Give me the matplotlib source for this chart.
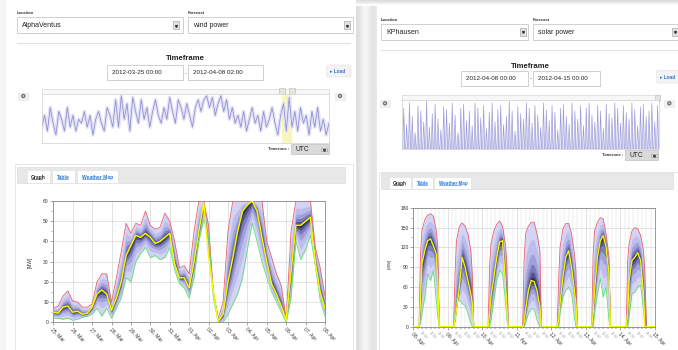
import numpy as np
import matplotlib.pyplot as plt
from matplotlib.patches import Rectangle, FancyBboxPatch, Circle
from matplotlib.ticker import MultipleLocator

plt.rcParams['font.family'] = ['Liberation Sans', 'DejaVu Sans']

W, H = 678, 350

# ---------- data ----------
# wind power, AlphaVentus, 6-hourly from 2012-03-25 00:00
wind_days = ['25. Mar', '26. Mar', '27. Mar', '28. Mar', '29. Mar', '30. Mar', '31. Mar',
             '01. Apr', '02. Apr', '03. Apr', '04. Apr', '05. Apr', '06. Apr', '07. Apr', '08. Apr']
wind_med = [5, 4.5, 7.5, 8, 5, 5.5, 4, 4.5, 7.5, 14, 16, 14, 6, 12, 20, 33, 38, 43, 42, 44,
            42, 39, 40, 42, 44, 29, 22, 22, 17, 30, 45, 59, 33, 15, 0.5, 4, 20, 32, 45, 55,
            58, 60, 55, 42, 30, 19, 14, 8, 1, 25, 48, 48, 50, 52, 30, 15, 7]
wind_max = [7, 8, 13, 15.5, 10.5, 10, 7.5, 7.5, 9, 20, 24, 24, 10, 22, 35, 49, 44, 49, 48, 55,
            48, 46, 47, 54, 50, 40, 27, 28, 24, 45, 60, 60, 48, 14, 2, 10, 45, 60, 60, 60,
            60, 60, 60, 60, 40, 32, 24, 18, 1.5, 45, 60, 60, 60, 60, 37, 27, 13]
wind_min = [2, 2, 1.5, 2, 1, 1.5, 2.5, 3, 4, 7, 3, 7, 2, 7, 12, 22, 20, 30, 34, 37,
            32, 33, 31, 32, 37, 26, 19, 17, 12, 22, 40, 51, 42, 12, 0, 0, 4, 9, 14, 22,
            36, 49, 40, 30, 22, 15, 10, 5, 0, 12, 40, 31, 36, 43, 28, 11, 3]

# solar power, KPhausen, 08 Apr - 15 Apr, values at these hours of each day
solar_days = ['08. Apr', '09. Apr', '10. Apr', '11. Apr', '12. Apr', '13. Apr', '14. Apr', '15. Apr']
solar_hours = [4, 5, 6, 8, 10, 12, 14, 16, 17, 18]
solar_max = [[0, 110, 145, 162, 169, 171, 167, 145, 120, 0],
             [0, 80, 130, 152, 157, 152, 140, 115, 80, 0],
             [0, 90, 125, 145, 155, 160, 152, 125, 95, 0],
             [0, 100, 140, 152, 158, 158, 140, 115, 0, 0],
             [0, 70, 120, 148, 156, 156, 140, 110, 85, 0],
             [0, 110, 145, 158, 165, 163, 140, 105, 0, 0],
             [0, 100, 125, 145, 150, 148, 138, 115, 80, 0]]
solar_med = [[0, 40, 95, 115, 130, 133, 122, 110, 70, 0],
             [0, 10, 25, 60, 105, 90, 70, 50, 35, 0],
             [0, 20, 45, 75, 105, 128, 130, 70, 30, 0],
             [0, 5, 25, 55, 70, 68, 55, 30, 0, 0],
             [0, 10, 35, 75, 105, 115, 90, 55, 35, 0],
             [0, 20, 55, 105, 130, 138, 120, 80, 0, 0],
             [0, 20, 70, 100, 105, 112, 100, 50, 0, 0]]
solar_min = [[0, 5, 20, 45, 80, 70, 85, 40, 15, 0],
             [0, 20, 43, 40, 35, 32, 20, 5, 0, 0],
             [0, 0, 10, 40, 70, 85, 80, 40, 10, 0],
             [0, 0, 5, 20, 27, 27, 10, 0, 0, 0],
             [0, 0, 20, 45, 55, 60, 50, 15, 0, 0],
             [0, 0, 20, 50, 73, 45, 60, 10, 0, 0],
             [0, 0, 15, 50, 52, 60, 63, 25, 0, 0]]

# navigator overviews
nav_wind = [20, 35, 15, 45, 25, 10, 40, 30, 15, 45, 20, 35, 15, 30, 25, 40, 20, 35, 10, 30,
            40, 25, 15, 45, 35, 20, 55, 20, 60, 30, 50, 15, 58, 40, 25, 55, 30, 45, 20, 40,
            55, 35, 25, 45, 30, 58, 40, 25, 55, 45, 30, 50, 35, 20, 45, 55, 40, 55, 60, 45,
            58, 35, 50, 60, 40, 55, 30, 45, 25, 35, 20, 40, 15, 30, 45, 25, 35, 15, 40, 20,
            30, 45, 25, 10, 35, 50, 15, 58, 20, 40, 15, 45, 25, 35, 10, 40, 20, 45, 15, 30,
            10, 25]
nav_solar = [150, 90, 170, 120, 60, 160, 140, 100, 175, 80, 130, 165, 110, 70, 155, 145, 95, 170,
             125, 60, 150, 165, 105, 140, 85, 170, 150, 115, 160, 75, 135, 170, 100, 145, 160, 90,
             120, 175, 140, 65, 155, 130, 110, 170, 150, 95, 160, 125, 80, 170, 145, 105, 160, 135,
             70, 150, 165, 120, 90, 170, 140, 110, 160, 85, 150, 170, 125, 100, 160, 140, 75, 165,
             130, 115, 170, 150, 95, 160, 135, 110, 170, 145, 85, 155, 165, 120, 140, 170, 100, 160]

# ---------- figure ----------
fig = plt.figure(figsize=(W / 100, H / 100), dpi=100)
bg = fig.add_axes([0, 0, 1, 1])
bg.set_xlim(0, W)
bg.set_ylim(H, 0)
bg.axis('off')


def px_axes(x0, y0, x1, y1):
    return fig.add_axes([x0 / W, 1 - y1 / H, (x1 - x0) / W, (y1 - y0) / H])


def rect(x0, y0, x1, y1, fc='white', ec='#cccccc', lw=0.6, z=1):
    bg.add_patch(Rectangle((x0, y0), x1 - x0, y1 - y0, facecolor=fc, edgecolor=ec, linewidth=lw, zorder=z))


def select_box(x0, y0, x1, y1, text, arrow_x=None, fs=5.0, fc='white'):
    rect(x0 + 0.8, y0 + 0.8, x1 + 0.8, y1 + 0.8, fc='#ececec', ec='none', z=1)
    rect(x0, y0, x1, y1, fc=fc, ec='#c9c9c9', z=2)
    bg.text(x0 + 5, (y0 + y1) / 2 + 0.3, text, fontsize=fs, va='center', ha='left', color='#222', zorder=3)
    if arrow_x is not None:
        rect(arrow_x, y0 + 3.5, arrow_x + 6, y1 - 3.5, fc='#e2e2e2', ec='#9a9a9a', lw=0.4, z=3)
        bg.plot(arrow_x + 3, (y0 + y1) / 2 + 0.5, marker='v', ms=1.3, color='#333', zorder=4)


def round_button(cx, cy):
    rect(cx - 5, cy - 3.5, cx + 5, cy + 3.5, fc='#f1f1f1', ec='#e4e4e4', lw=0.4, z=2)
    bg.add_patch(Circle((cx, cy), 2.2, facecolor='#707070', edgecolor='none', zorder=3))
    bg.add_patch(Circle((cx, cy), 0.9, facecolor='#d8d8d8', edgecolor='none', zorder=4))


def load_button(x0, y0, x1, y1):
    bg.add_patch(FancyBboxPatch((x0, y0), x1 - x0, y1 - y0, boxstyle='round,pad=0,rounding_size=2',
                                facecolor='#f3f3f3', edgecolor='#e4e4e4', linewidth=0.5, zorder=2))
    bg.text(x0 + 3, (y0 + y1) / 2 + 0.3, '\u25b8 Load', fontsize=3.4, va='center', color='#2f6fc8',
            fontweight='bold', zorder=3)


def tabs(x0, y0, x1, y1, tab_x, label_x, fs=3.6):
    rect(x0, y0, x1, y1, fc='#e8e8e8', ec='#dddddd', lw=0.5, z=2)
    names = ['Graph', 'Table', 'Weather Map']
    for (a, b), lx, name in zip(tab_x, label_x, names):
        rect(a, y0 + 3.5, b, y1, fc='white', ec='#dddddd', lw=0.4, z=3)
        col = '#222' if name == 'Graph' else '#2a78d6'
        bg.text(lx, y1 - 5.5, name, fontsize=fs, fontweight='bold', color=col, va='center', zorder=4)
        bg.plot([lx, lx + len(name) * fs * 0.62], [y1 - 3.6, y1 - 3.6], color=col, lw=0.4, zorder=4)


def navigator(x0, y0, x1, y1):
    rect(x0, y0 - 5.3, x1, y0, fc='#f7f7f7', ec='#d8d8d8', lw=0.5, z=2)
    ax = px_axes(x0, y0, x1, y1)
    for s in ax.spines.values():
        s.set_color('#d0d0d0')
        s.set_linewidth(0.5)
    ax.set_xticks([])
    ax.set_yticks([])
    return ax


def fan(ax, t, lo, med, hi, lw_y=1.1):
    lo, med, hi = np.asarray(lo, float), np.asarray(med, float), np.asarray(hi, float)
    shades = [(1.0, '#d3d3f5'), (0.7, '#bdbdeb'), (0.45, '#a0a0da'), (0.28, '#7b7bbb'),
              (0.15, '#52528f'), (0.06, '#2c2c5c')]
    for f, c in shades:
        ax.fill_between(t, med - f * (med - lo), med + f * (hi - med), color=c, lw=0, zorder=2)
    ax.plot(t, hi, color='#e8606c', lw=0.6, zorder=3)
    ax.plot(t, lo, color='#5ee06e', lw=0.6, zorder=3)
    ax.plot(t, med, color='#f7f700', lw=lw_y, zorder=4)


def style_chart(ax):
    for s in ax.spines.values():
        s.set_color('#8a8a8a')
        s.set_linewidth(0.6)
    ax.tick_params(axis='both', labelsize=3.6, length=2, width=0.4, color='#666', pad=1.2, labelcolor='#333')
    ax.tick_params(axis='y', which='minor', length=1.2, width=0.4, color='#888')
    ax.grid(True, which='major', color='#d6d6d6', lw=0.5, zorder=0)
    ax.set_axisbelow(True)


# ---------- backgrounds ----------
rect(0, 0, 6, H, fc='#f5f5f5', ec='none', z=0)
strip = np.array([[0.87, 0.89, 0.92, 0.95, 0.97, 0.95, 0.92, 0.9, 0.89, 0.91]])
bg.imshow(strip, extent=(356, 377, H, 0), cmap='gray', vmin=0, vmax=1, aspect='auto', zorder=0)
top = np.array([[0.86], [0.91], [0.96], [1.0]])
bg.imshow(top, extent=(356, W, 6, 0), cmap='gray', vmin=0, vmax=1, aspect='auto', zorder=0)
bg.set_xlim(0, W)
bg.set_ylim(H, 0)

# ---------- left panel ----------
bg.text(17, 12.5, 'Location', fontsize=3, fontweight='bold', color='#333', va='center')
bg.text(188, 12.5, 'Forecast', fontsize=3, fontweight='bold', color='#333', va='center')
select_box(17, 17.3, 182.7, 32.7, 'AlphaVentus', arrow_x=173)
select_box(188, 17.3, 353, 32.7, 'wind power', arrow_x=344)
bg.plot([17, 350], [43.3, 43.3], color='#e2e2e2', lw=0.8)
bg.text(185, 59, 'Timeframe', fontsize=5.6, fontweight='bold', ha='center', va='center', color='#222')
select_box(107, 64.7, 183, 79.7, '2012-03-25 00:00', fs=4.5)
bg.text(185.5, 74, '-', fontsize=4.5, ha='center', va='center', color='#444')
select_box(188, 64.7, 263, 79.7, '2012-04-08 02:00', fs=4.5)
load_button(326.7, 65, 351, 77)
round_button(23.3, 96)
round_button(340, 96)

nav1 = navigator(41.7, 94.3, 329, 142.7)
xn = np.arange(len(nav_wind))
sel = (0.835, 0.868)
nav1.axvspan(sel[0] * (len(nav_wind) - 1), sel[1] * (len(nav_wind) - 1), color='#f8f6bf', zorder=0)
nav1.plot(xn, nav_wind, color='#e2e2f6', lw=2.6, zorder=1)
nav1.plot(xn, nav_wind, color='#8d8dd2', lw=0.55, zorder=2)
nav1.set_xlim(0, len(nav_wind) - 1)
nav1.set_ylim(0, 62)
rect(279.3, 88.3, 285, 94.8, fc='#e4e4e4', ec='#b8b8b8', lw=0.4, z=3)
rect(289.3, 88.3, 295, 94.8, fc='#e4e4e4', ec='#b8b8b8', lw=0.4, z=3)

bg.text(289, 149.5, 'Timezone :', fontsize=3, fontweight='bold', ha='right', va='center', color='#333')
select_box(291, 144, 328.7, 154, 'UTC', arrow_x=320.5, fs=4.8, fc='#dadada')

rect(15, 163.5, 353, 352, fc='white', ec='#e3e3e3', lw=0.6, z=1)
tabs(17, 166.7, 345, 182.7, [(26.7, 50), (52, 75), (77, 117.7)], [31, 57, 81.7])

# wind chart
ax1 = px_axes(53.3, 201, 325, 322.3)
t_wind = np.arange(len(wind_med)) * 6
fan(ax1, t_wind, wind_min, wind_med, wind_max)
ax1.set_xlim(0, 24 * (len(wind_days) - 1))
ax1.set_ylim(0, 60)
ax1.set_xticks(np.arange(len(wind_days)) * 24)
ax1.set_xticklabels(wind_days, rotation=-45, ha='left', rotation_mode='anchor')
ax1.yaxis.set_major_locator(MultipleLocator(10))
ax1.yaxis.set_minor_locator(MultipleLocator(5))
style_chart(ax1)
bg.text(30, 262, '[MW]', fontsize=3.4, rotation=90, ha='center', va='center', color='#333')

# ---------- right panel ----------
bg.text(381, 20, 'Location', fontsize=3, fontweight='bold', color='#333', va='center')
bg.text(533, 20, 'Forecast', fontsize=3, fontweight='bold', color='#333', va='center')
select_box(381, 24, 528, 39.7, 'KPhausen', arrow_x=519.5)
select_box(533, 24, 682, 39.7, 'solar power', arrow_x=672)
bg.plot([381, W], [49.7, 49.7], color='#e2e2e2', lw=0.8)
bg.text(530, 66, 'Timeframe', fontsize=5.6, fontweight='bold', ha='center', va='center', color='#222')
select_box(460.7, 71.3, 528.3, 86, '2012-04-08 00:00', fs=4.5)
bg.text(530.7, 79, '-', fontsize=4.5, ha='center', va='center', color='#444')
select_box(533, 71.3, 600, 86, '2012-04-15 00:00', fs=4.5)
load_button(656.7, 70.5, 681, 83)
round_button(385, 103.3)
round_button(669.3, 103.3)

nav2 = navigator(402.3, 100, 659, 149)
xs, ys = [], []
for j, p in enumerate(nav_solar):
    xs += [j + 0.15, j + 0.5, j + 0.85]
    ys += [0, p, 0]
nav2.fill_between(xs, 0, ys, color='#dedef6', lw=0)
nav2.plot(xs, ys, color='#9a9ad8', lw=0.45)
nav2.set_xlim(0, len(nav_solar))
nav2.set_ylim(0, 180)
rect(654.5, 95, 659.5, 101, fc='#e4e4e4', ec='#b8b8b8', lw=0.4, z=3)

bg.text(623.5, 155.3, 'Timezone :', fontsize=3, fontweight='bold', ha='right', va='center', color='#333')
select_box(625, 150, 658.3, 160, 'UTC', arrow_x=650.5, fs=4.8, fc='#dadada')

rect(379, 171.5, 682, 352, fc='white', ec='#e3e3e3', lw=0.6, z=1)
tabs(380.7, 173, 673.3, 188.7, [(389.3, 410.7), (412.3, 432.7), (434.3, 471)], [393, 417, 438.7], fs=3.3)

# solar chart
ax2 = px_axes(413.3, 207.7, 655, 326.7)
t_sol, v_min, v_med, v_max = [0], [0], [0], [0]
for d in range(len(solar_max)):
    for k, h in enumerate(solar_hours):
        t_sol.append(24 * d + h)
        v_min.append(solar_min[d][k])
        v_med.append(solar_med[d][k])
        v_max.append(solar_max[d][k])
t_sol.append(24 * len(solar_max))
v_min.append(0)
v_med.append(0)
v_max.append(0)
fan(ax2, t_sol, v_min, v_med, v_max, lw_y=1.0)
ax2.set_xlim(0, 24 * (len(solar_days) - 1))
ax2.set_ylim(0, 180)
ax2.set_xticks(np.arange(len(solar_days)) * 24)
ax2.set_xticklabels(solar_days, rotation=-45, ha='left', rotation_mode='anchor')
minor_t = [h for h in range(0, 24 * (len(solar_days) - 1), 3) if h % 24]
minor_lab = ['%02d:00' % (h % 24) if h % 6 == 0 else '' for h in minor_t]
ax2.set_xticks(minor_t, minor=True)
ax2.set_xticklabels(minor_lab, minor=True, rotation=-45, ha='left', rotation_mode='anchor')
ax2.yaxis.set_major_locator(MultipleLocator(30))
ax2.yaxis.set_minor_locator(MultipleLocator(15))
style_chart(ax2)
ax2.tick_params(axis='x', which='minor', labelsize=2.4, labelcolor='#9a9a9a', length=1.2, width=0.3, pad=1.5)
ax2.grid(True, which='minor', axis='x', color='#dddddd', lw=0.35, zorder=0)
bg.text(390, 264, '[MW]', fontsize=3.2, rotation=90, ha='center', va='center', color='#333')

fig.savefig('out.png', dpi=100)
